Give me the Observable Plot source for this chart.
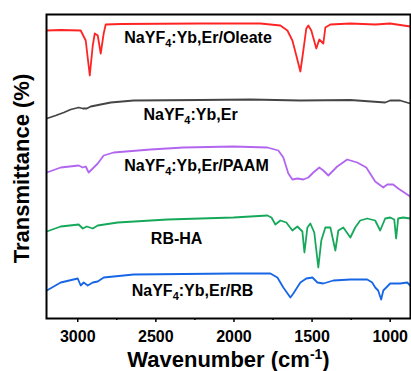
<!DOCTYPE html>
<html><head><meta charset="utf-8">
<script src="https://cdn.jsdelivr.net/npm/d3@7"></script>
<script src="https://cdn.jsdelivr.net/npm/@observablehq/plot@0.6"></script>
<style>
body{margin:0;background:#fff;}
svg{font-family:"Liberation Sans",Arial,sans-serif;}
g[aria-label="x-axis tick label"] text{font-weight:bold;font-size:16px;fill:#000;}
</style></head><body><div id="chart"></div>
<script>
// Wavenumber (cm-1) and offset transmittance (arbitrary units)
const oleateWn = [3198,3109,2981,2949,2923,2904,2891,2872,2853,2834,2821,2725,2214,1831,1703,1658,1626,1601,1575,1556,1537,1524,1505,1473,1454,1428,1415,1383,1255,1096,1000,872];
const oleateT  = [288,288.5,288,278,243,273,285,283,265,285,294,294.5,295,295,293,288,278,263,247,268,290,293,288,270,279,275,291,294,295,294,295,292];

const bareWn = [3198,3141,3089,3045,2994,2968,2942,2917,2853,2789,2642,2214,1894,1575,1255,1032,1000,936,872];
const bareT  = [200,203,206,209,211,210,210,212,214,216,218,218.5,219,218,218.5,216,218,218,215];

const paamWn = [3198,3109,2994,2968,2949,2930,2904,2872,2834,2770,2534,2323,2003,1786,1716,1684,1652,1626,1594,1556,1524,1492,1454,1428,1396,1339,1275,1211,1153,1096,1044,1019,981,949,910,872];
const paamT  = [146,151,153,151,152,146,150,155,163,166,169,171,172,171,168,161,145,139,140,139,141,146,151,148,143,152,159,156,151,137,131,134,134,130,126,122];

const rbhaWn = [3198,3109,2994,2968,2942,2904,2872,2744,2425,2003,1786,1760,1735,1703,1665,1626,1594,1562,1549,1530,1511,1486,1460,1441,1415,1383,1351,1332,1300,1255,1224,1192,1147,1096,1064,1032,1000,974,962,949,917,872];
const rbhaT  = [87,92,94,90,92,90,93,96,99,101,103,101,94,98,96,88,92,87,66,91,95,86,51,78,91,91,68,88,91,81,91,98,100,98,88,100,101,99,80,100,101,100];

const rbWn = [3198,3109,3000,2981,2962,2936,2904,2872,2834,2642,2003,1767,1722,1684,1639,1620,1575,1537,1498,1466,1428,1364,1255,1147,1115,1096,1077,1058,1044,1000,936,891,872];
const rbT  = [28,36,40,33,36,33,36,37,41,44,45,45,41,31,21,25,36,40,41,36,35,38,39,39,36,31,28,19,28,35,35,36,33];

const seriesNames = ["NaYF4:Yb,Er/Oleate","NaYF4:Yb,Er","NaYF4:Yb,Er/PAAM","RB-HA","NaYF4:Yb,Er/RB"];
const seriesWn = [oleateWn, bareWn, paamWn, rbhaWn, rbWn];
const seriesT  = [oleateT, bareT, paamT, rbhaT, rbT];
const seriesColors = ["#ff2424","#454545","#b266f0","#16a85a","#1766e6"];

// label anchors (data coordinates)
const labelWn = [2230, 2278, 2240, 2367, 2265];
const labelT  = [281, 204, 153, 80, 27.5];

const majorTicks = [3000,2500,2000,1500,1000];
const minorTicks = [2750,2250,1750,1250];

const rows = seriesNames.flatMap((name, k) => seriesWn[k].map((w, i) => ({series: name, wn: w, t: seriesT[k][i]})));
const labels = seriesNames.map((name, k) => ({text: name, wn: labelWn[k], t: labelT[k]}));

const chart = Plot.plot({
  width: 411, height: 371,
  marginLeft: 46, marginRight: 1, marginTop: 14, marginBottom: 53,
  x: {domain: [3200, 870]},
  y: {domain: [0, 304], axis: null},
  color: {domain: seriesNames, range: seriesColors},
  marks: [
    Plot.line(rows, {x: "wn", y: "t", z: "series", stroke: "series", strokeWidth: 1.8}),
    Plot.text(labels, {x: "wn", y: "t", text: "text", fontSize: 16, fontWeight: "bold", fill: "#000"}),
    Plot.frame({stroke: "#000", strokeWidth: 2}),
    Plot.axisX({ticks: majorTicks, tickSize: 4, tickPadding: 8, tickFormat: d => String(d), label: null, strokeWidth: 1.5}),
    Plot.axisX({ticks: minorTicks, tickSize: 2, text: null, label: null, strokeWidth: 1.5}),
    Plot.text(["Wavenumber (cm-1)"], {frameAnchor: "bottom", lineAnchor: "middle", textAnchor: "middle", dy: 41, fontSize: 22, fontWeight: "bold", fill: "#000"}),
    Plot.text(["Transmittance (%)"], {frameAnchor: "left", textAnchor: "middle", lineAnchor: "middle", dx: -25, dy: 2, rotate: -90, fontSize: 22, fontWeight: "bold", fill: "#000"})
  ]
});
document.getElementById("chart").appendChild(chart);

// typographic sub/superscripts
d3.select(chart).selectAll("text").each(function() {
  const el = d3.select(this);
  const s = this.textContent;
  if (s.startsWith("NaYF4")) {
    el.text(null);
    el.append("tspan").text("NaYF");
    el.append("tspan").attr("dy", 4).attr("font-size", 11).text("4");
    el.append("tspan").attr("dy", -4).text(s.slice(5));
  } else if (s === "Wavenumber (cm-1)") {
    el.text(null);
    el.append("tspan").text("Wavenumber (cm");
    el.append("tspan").attr("dy", -8).attr("font-size", 14).text("-1");
    el.append("tspan").attr("dy", 8).text(")");
  }
});
</script></body></html>
